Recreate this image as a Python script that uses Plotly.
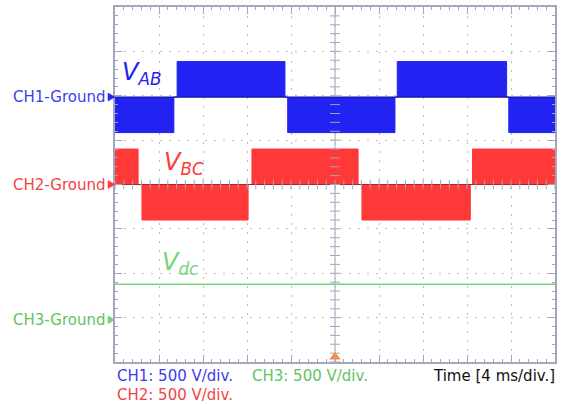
import numpy as np
import plotly.graph_objects as go

# ---------------- data ----------------
volts_per_div = 500          # V/div for all channels
ms_per_div = 4               # time base

# CH1: V_AB  (block start [ms], block end [ms], level [V])
vab_start = [0.0, 5.65, 15.70, 25.66, 35.80]
vab_end = [5.35, 15.45, 25.45, 35.60, 40.00]
vab_level = [-400, 400, -400, 400, -400]

# CH2: V_BC
vbc_start = [0.0, 2.45, 12.45, 22.45, 32.50]
vbc_end = [2.10, 12.10, 22.10, 32.30, 40.00]
vbc_level = [400, -400, 400, -400, 400]

# CH3: V_dc
vdc_time = [0.0, 40.0]
vdc_value = [400, 400]

# channel ground positions (divisions from screen centre)
ch_names = ["CH1-Ground", "CH2-Ground", "CH3-Ground"]
ch_ground = [1.97, 0.0, -3.05]

# ---------------- style ----------------
BLUE = "#2222f2"
BLUE_TXT = "#3c3cf0"
RED = "#ff3838"
RED_TXT = "#f04444"
GREEN = "#74d474"
GREEN_TXT = "#5fc45f"
FRAME = "#a4a4bc"
GRID = "#bdbdbd"
FONT = "DejaVu Sans"


def block_path(starts, ends, levels, ground):
    xs, ys = [], []
    for s, e, l in zip(starts, ends, levels):
        xs += [s, s, e, e]
        ys += [0, l, l, 0]
    return xs, list(ground + np.array(ys) / volts_per_div)


fig = go.Figure()

# waveforms
for (st, en, lv, g, col, dark) in [
    (vab_start, vab_end, vab_level, ch_ground[0], BLUE, "#14149a"),
    (vbc_start, vbc_end, vbc_level, ch_ground[1], RED, "#b02222"),
]:
    xs, ys = block_path(st, en, lv, g)
    fig.add_trace(go.Scatter(x=xs, y=ys, mode="lines", fill="toself",
                             fillcolor=col, line=dict(color=col, width=1),
                             hoverinfo="skip"))
    fig.add_trace(go.Scatter(x=[0, 40], y=[g, g], mode="lines",
                             line=dict(color=dark, width=1.2), hoverinfo="skip"))

fig.add_trace(go.Scatter(x=vdc_time,
                         y=[ch_ground[2] + v / volts_per_div for v in vdc_value],
                         mode="lines", line=dict(color=GREEN, width=1.5),
                         hoverinfo="skip"))

# centre cross lines with small ticks
fig.add_shape(type="line", x0=20, x1=20, y0=-4, y1=4,
              line=dict(color=FRAME, width=1), layer="below")
fig.add_shape(type="line", x0=0, x1=40, y0=0, y1=0,
              line=dict(color=FRAME, width=1), layer="below")
cy = np.arange(-4, 4.001, 0.2)
fig.add_trace(go.Scatter(x=[20] * len(cy), y=cy, mode="markers",
                         marker=dict(symbol="line-ew", size=7,
                                     line=dict(color=FRAME, width=1)),
                         hoverinfo="skip"))
cx = np.arange(0, 40.001, 0.8)
fig.add_trace(go.Scatter(x=cx, y=[0] * len(cx), mode="markers",
                         marker=dict(symbol="line-ns", size=7,
                                     line=dict(color=FRAME, width=1)),
                         hoverinfo="skip"))

# ground markers (small right-pointing triangles at the left frame)
for g, col in zip(ch_ground, [BLUE, RED, GREEN]):
    fig.add_shape(type="path", xref="paper", yref="y", xsizemode="pixel",
                  ysizemode="pixel", xanchor=0, yanchor=g,
                  path="M -7,-4 L 0,0 L -7,4 Z",
                  fillcolor=col, line=dict(color=col, width=0.5), layer="above")

# trigger marker
fig.add_trace(go.Scatter(x=[20], y=[-3.89], mode="markers", cliponaxis=False,
                         marker=dict(symbol="triangle-up", size=10, color="#ff8a3a"),
                         hoverinfo="skip"))

ann = []
for name, g, col in zip(ch_names, ch_ground, [BLUE_TXT, RED_TXT, GREEN_TXT]):
    ann.append(dict(x=-0.018, y=g, xref="paper", yref="y", text=name, showarrow=False,
                    xanchor="right", yanchor="middle",
                    font=dict(family=FONT, size=15, color=col)))

for txt, x, y, col in [("<i>V<sub>AB</sub></i>", 2.4, 2.5, BLUE),
                       ("<i>V<sub>BC</sub></i>", 6.3, 0.48, RED),
                       ("<i>V<sub>dc</sub></i>", 5.9, -1.78, GREEN)]:
    ann.append(dict(x=x, y=y, xref="x", yref="y", text=txt, showarrow=False,
                    xanchor="center", yanchor="middle",
                    font=dict(family=FONT, size=24, color=col)))

for txt, x, y, col, xa in [("CH1: 500 V/div.", 0.0, -0.04, BLUE_TXT, "left"),
                           ("CH2: 500 V/div.", 0.0, -0.093, RED_TXT, "left"),
                           ("CH3: 500 V/div.", 0.307, -0.04, GREEN_TXT, "left"),
                           ("Time [4 ms/div.]", 1.005, -0.04, "#111111", "right")]:
    ann.append(dict(x=x, y=y, xref="paper", yref="paper", text=txt, showarrow=False,
                    xanchor=xa, yanchor="middle",
                    font=dict(family=FONT, size=15, color=col)))

axis_common = dict(showticklabels=False, showgrid=True, gridcolor=GRID,
                   griddash="2px,7px", gridwidth=1, zeroline=False,
                   showline=True, linecolor=FRAME, linewidth=1.5, mirror="ticks",
                   ticks="inside", ticklen=7, tickcolor=FRAME, tickwidth=1)

fig.update_layout(
    width=569, height=404,
    margin=dict(l=115, r=14, t=5, b=42),
    plot_bgcolor="white", paper_bgcolor="white",
    showlegend=False,
    xaxis=dict(range=[0, 40], dtick=ms_per_div, tick0=0,
               minor=dict(dtick=0.8, ticks="inside", ticklen=3, tickcolor=FRAME,
                          showgrid=False),
               **axis_common),
    yaxis=dict(range=[-4, 4], dtick=1, tick0=0,
               minor=dict(dtick=0.2, ticks="inside", ticklen=3, tickcolor=FRAME,
                          showgrid=False),
               **axis_common),
    annotations=ann,
)

fig.write_html("out.html", config={"displayModeBar": False},
               post_script="document.body.style.margin='0';"
                           "document.body.style.overflow='hidden';")
